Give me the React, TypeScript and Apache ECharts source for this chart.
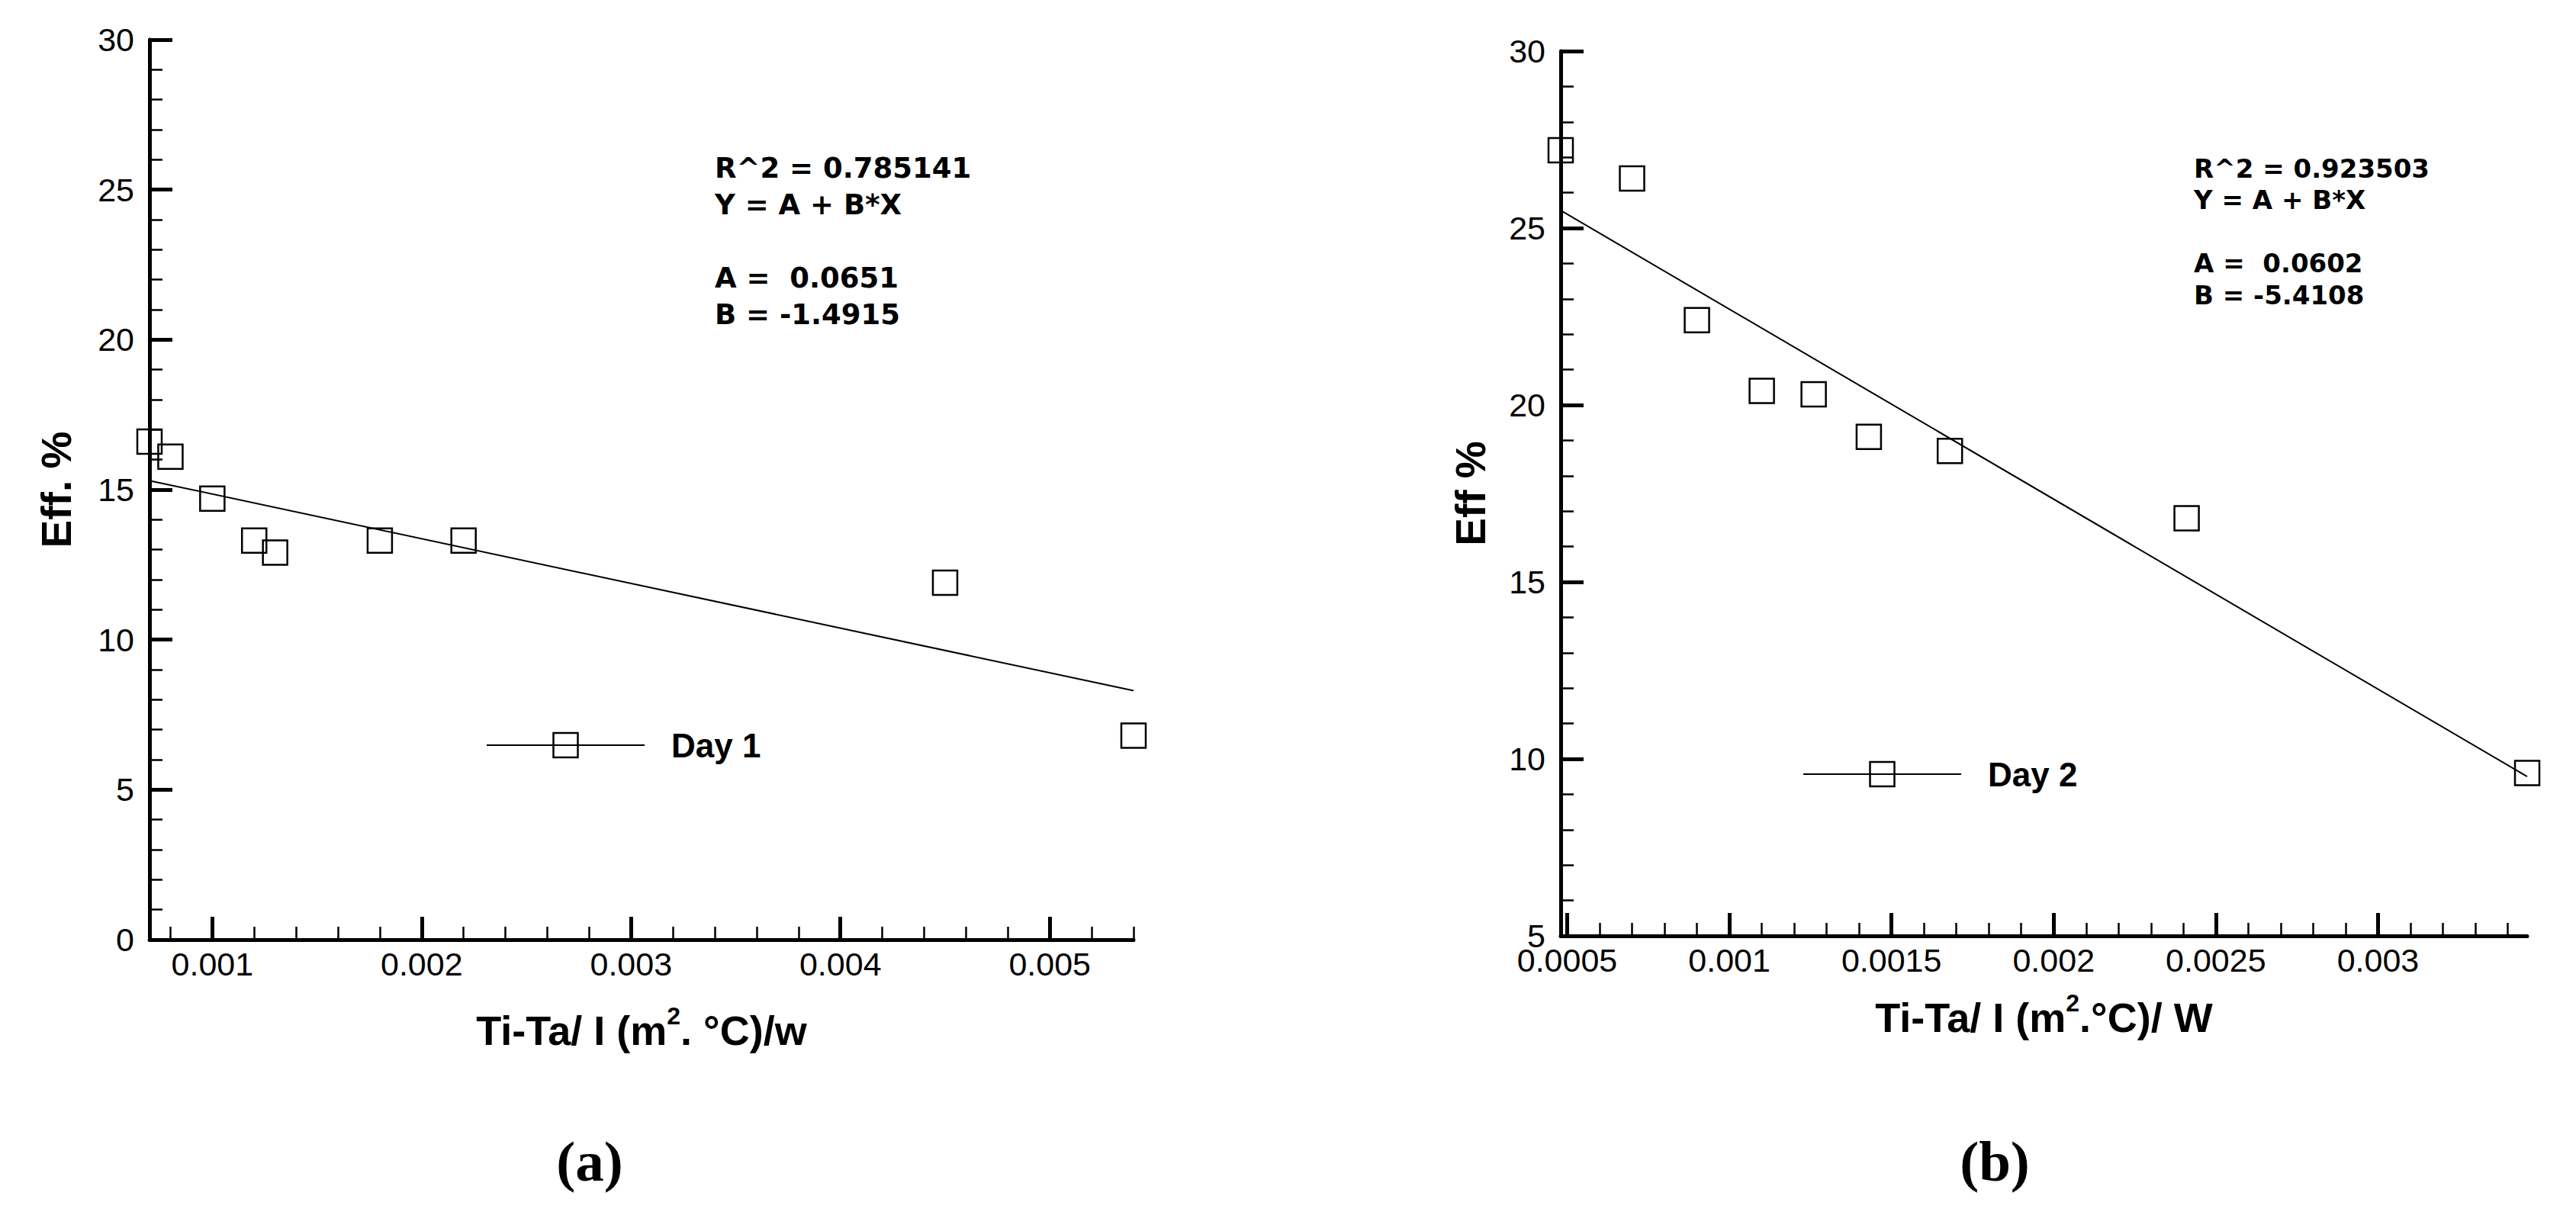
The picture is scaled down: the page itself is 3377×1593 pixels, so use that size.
import React, { useEffect, useRef } from "react";
import * as echarts from "echarts";

// ---------- data ----------
const dayOneX = [0.0007, 0.0008, 0.001, 0.0012, 0.0013, 0.0018, 0.0022, 0.0045, 0.0054];
const dayOneY = [16.6, 16.1, 14.7, 13.3, 12.9, 13.3, 13.3, 11.9, 6.8];
const fitOneX = [0.0007, 0.0054];
const fitOneY = [15.3, 8.3];

const dayTwoX = [0.00048, 0.0007, 0.0009, 0.0011, 0.00126, 0.00143, 0.00168, 0.00241, 0.00346];
const dayTwoY = [27.2, 26.4, 22.4, 20.4, 20.3, 19.1, 18.7, 16.8, 9.6];
const fitTwoX = [0.00048, 0.00346];
const fitTwoY = [25.5, 9.5];

// ---------- axes ----------
const xTicksOne = [0.001, 0.002, 0.003, 0.004, 0.005];
const xTicksTwo = [0.0005, 0.001, 0.0015, 0.002, 0.0025, 0.003];
const xRangeOne = [0.0007, 0.0054];
const xRangeTwo = [0.00048, 0.00346];
const yRangeOne = [0, 30];
const yRangeTwo = [5, 30];

const annotOne = ["R^2 = 0.785141", "Y = A + B*X", "", "A =  0.0651", "B = -1.4915"];
const annotTwo = ["R^2 = 0.923503", "Y = A + B*X", "", "A =  0.0602", "B = -5.4108"];

const SANS = "'Liberation Sans', Arial, Helvetica, sans-serif";
const WIDE = "'DejaVu Sans', Verdana, sans-serif";
const SERIF = "'Liberation Serif', 'Times New Roman', serif";

function minorValues(min: number, max: number, step: number, every: number) {
  const out: number[] = [];
  const k0 = Math.ceil(min / step - 1e-9);
  const k1 = Math.floor(max / step + 1e-9);
  for (let k = k0; k <= k1; k++) {
    if (k % every !== 0) out.push(parseFloat((k * step).toFixed(8)));
  }
  return out;
}

const fmt = (v: number) => String(parseFloat(Number(v).toFixed(6)));

const axisLine = { show: true, onZero: false, lineStyle: { color: "#000", width: 5 } };
const tickLabel = { color: "#000", fontSize: 43, fontFamily: SANS };

function mainX(grid: number, range: number[], ticks: number[], name: string, gap: number) {
  return {
    type: "value",
    gridIndex: grid,
    position: "bottom",
    min: range[0],
    max: range[1],
    axisLine,
    axisTick: { show: true, inside: true, length: 30, lineStyle: { color: "#000", width: 5 }, customValues: ticks },
    axisLabel: { ...tickLabel, margin: 10, customValues: ticks, formatter: fmt },
    splitLine: { show: false },
    minorTick: { show: false },
    name,
    nameLocation: "middle",
    nameGap: gap,
    nameTextStyle: {
      rich: {
        a: { fontSize: 54, fontWeight: "bold", fontFamily: SANS, color: "#000", lineHeight: 70 },
        s: { fontSize: 32, fontWeight: "bold", fontFamily: SANS, color: "#000", lineHeight: 32, verticalAlign: "top" },
      },
    },
  };
}

function minorX(grid: number, range: number[], minors: number[]) {
  return {
    type: "value",
    gridIndex: grid,
    position: "bottom",
    min: range[0],
    max: range[1],
    axisLine: { show: false, onZero: false },
    axisTick: { show: true, inside: true, length: 17, lineStyle: { color: "#000", width: 2.5 }, customValues: minors },
    axisLabel: { show: false },
    splitLine: { show: false },
  };
}

function mainY(grid: number, range: number[], name: string, gap: number) {
  return {
    type: "value",
    gridIndex: grid,
    position: "left",
    min: range[0],
    max: range[1],
    interval: 5,
    axisLine,
    axisTick: { show: true, inside: true, length: 30, lineStyle: { color: "#000", width: 5 } },
    minorTick: { show: true, splitNumber: 5, length: 17, lineStyle: { color: "#000", width: 2.5 } },
    axisLabel: { ...tickLabel, margin: 20 },
    splitLine: { show: false },
    minorSplitLine: { show: false },
    name,
    nameLocation: "middle",
    nameRotate: 90,
    nameGap: gap,
    nameTextStyle: { fontSize: 55, fontWeight: "bold", fontFamily: SANS, color: "#000" },
  };
}

const pairs = (xs: number[], ys: number[]) => xs.map((x, i) => [x, ys[i]]);

const markerStyle = { color: "rgba(0,0,0,0)", borderColor: "#000", borderWidth: 2.5 };

function dataSeries(name: string, axis: number, xs: number[], ys: number[]) {
  return {
    name,
    type: "line",
    xAxisIndex: axis,
    yAxisIndex: axis / 2,
    data: pairs(xs, ys),
    symbol: "rect",
    symbolSize: 32,
    showSymbol: true,
    showAllSymbol: true,
    lineStyle: { width: 0, opacity: 0 },
    itemStyle: markerStyle,
    clip: false,
    z: 3,
  };
}

function fitSeries(name: string, axis: number, xs: number[], ys: number[]) {
  return {
    name,
    type: "line",
    xAxisIndex: axis,
    yAxisIndex: axis / 2,
    data: pairs(xs, ys),
    symbol: "none",
    lineStyle: { color: "#000", width: 2 },
    z: 2,
  };
}

function legendFor(name: string, left: number, top: number) {
  return {
    data: [name],
    left,
    top,
    padding: 0,
    orient: "horizontal",
    selectedMode: false,
    itemWidth: 207,
    itemHeight: 40,
    itemStyle: markerStyle,
    lineStyle: { color: "#000", width: 2, opacity: 1, type: "solid" },
    textStyle: { fontSize: 44, fontWeight: "bold", fontFamily: SANS, color: "#000", padding: [0, 0, 0, 30] },
  };
}

function annotation(lines: string[], x: number, y: number, size: number, lh: number) {
  return {
    type: "text",
    x,
    y,
    style: {
      text: lines.join("\n"),
      fontSize: size,
      fontWeight: "bold",
      fontFamily: WIDE,
      fill: "#000",
      lineHeight: lh,
      verticalAlign: "top",
      align: "left",
    },
  };
}

function panelLabel(text: string, x: number, y: number) {
  return {
    type: "text",
    x,
    y,
    style: { text, fontSize: 75, fontWeight: "bold", fontFamily: SERIF, fill: "#000", align: "center", verticalAlign: "middle" },
  };
}

export default function App() {
  const ref = useRef<HTMLDivElement>(null);
  useEffect(() => {
    if (!ref.current) return;
    const chart = echarts.init(ref.current, null, { renderer: "svg" });
    const option: any = {
      animation: false,
      backgroundColor: "#fff",
      grid: [
        { left: 196, top: 52, width: 1290, height: 1180, outerBoundsMode: "none" },
        { left: 2046, top: 67, width: 1267, height: 1160, outerBoundsMode: "none" },
      ],
      xAxis: [
        mainX(0, xRangeOne, xTicksOne, "{a|Ti-Ta/ I (m}{s|2}{a|. °C)/w}", 84),
        minorX(0, xRangeOne, minorValues(xRangeOne[0], xRangeOne[1], 0.0002, 5)),
        mainX(1, xRangeTwo, xTicksTwo, "{a|Ti-Ta/ I (m}{s|2}{a|.°C)/ W}", 72),
        minorX(1, xRangeTwo, minorValues(xRangeTwo[0], xRangeTwo[1], 0.0001, 5)),
      ],
      yAxis: [mainY(0, yRangeOne, "Eff. %", 95), mainY(1, yRangeTwo, "Eff %", 91)],
      legend: [legendFor("Day 1", 637, 955), legendFor("Day 2", 2363, 993)],
      series: [
        dataSeries("Day 1", 0, dayOneX, dayOneY),
        fitSeries("Fit 1", 0, fitOneX, fitOneY),
        dataSeries("Day 2", 2, dayTwoX, dayTwoY),
        fitSeries("Fit 2", 2, fitTwoX, fitTwoY),
      ],
      graphic: [
        annotation(annotOne, 937, 196, 37, 48),
        annotation(annotTwo, 2876, 200, 34, 41.5),
        panelLabel("(a)", 773, 1522),
        panelLabel("(b)", 2615, 1522),
      ],
    };
    chart.setOption(option);
    return () => chart.dispose();
  }, []);
  return (
    <div
      ref={ref}
      style={{ position: "absolute", left: 0, top: 0, width: 3377, height: 1593, background: "#fff" }}
    />
  );
}
